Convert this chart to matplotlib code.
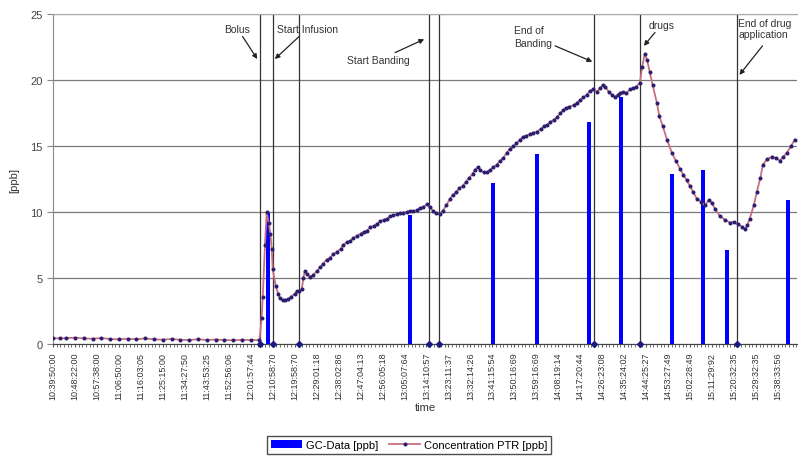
import matplotlib
matplotlib.use("Agg")
import matplotlib.pyplot as plt
from matplotlib.ticker import MultipleLocator, FixedLocator

plt.rcParams['font.family'] = ['Liberation Sans', 'DejaVu Sans']

# category labels of the time axis (one label every few samples)
time_labels = ['10:39:50:00', '10:48:22:00', '10:57:38:00', '11:06:50:00', '11:16:03:05',
               '11:25:15:00', '11:34:27:50', '11:43:53:25', '11:52:56:06', '12:01:57:44',
               '12:10:58:70', '12:19:58:70', '12:29:01:18', '12:38:02:86', '12:47:04:13',
               '12:56:05:18', '13:05:07:64', '13:14:10:57', '13:23:11:37', '13:32:14:26',
               '13:41:15:54', '13:50:16:69', '13:59:16:69', '14:08:19:14', '14:17:20:44',
               '14:26:23:08', '14:35:24:02', '14:44:25:27', '14:53:27:49', '15:02:28:49',
               '15:11:29:92', '15:20:32:35', '15:29:32:35', '15:38:33:56']

# PTR concentration, position in label units
ptr_x = [0.0, 0.3, 0.6, 1.0, 1.4, 1.8, 2.2, 2.6, 3.0, 3.4, 3.8, 4.2, 4.6, 5.0, 5.4, 5.8,
         6.2, 6.6, 7.0, 7.4, 7.8, 8.2, 8.6, 9.0, 9.4, 9.5, 9.55, 9.65, 9.73, 9.82, 9.9,
         9.96, 10.0, 10.14, 10.25, 10.32, 10.45, 10.55, 10.7, 10.85, 11.0, 11.1, 11.2,
         11.33, 11.4, 11.46, 11.55, 11.69, 11.83, 12.0, 12.15, 12.3, 12.46, 12.6, 12.75,
         12.92, 13.1, 13.2, 13.37, 13.5, 13.65, 13.83, 14.0, 14.15, 14.29, 14.45, 14.6,
         14.74, 14.9, 15.05, 15.2, 15.35, 15.5, 15.65, 15.8, 15.95, 16.11, 16.25, 16.4,
         16.56, 16.7, 16.85, 17.02, 17.15, 17.3, 17.45, 17.61, 17.75, 17.9, 18.07, 18.2,
         18.35, 18.5, 18.66, 18.8, 18.95, 19.1, 19.2, 19.34, 19.45, 19.6, 19.75, 19.9,
         20.05, 20.2, 20.35, 20.5, 20.65, 20.8, 20.95, 21.1, 21.25, 21.39, 21.55, 21.7,
         21.85, 22.03, 22.2, 22.35, 22.5, 22.62, 22.8, 22.95, 23.1, 23.21, 23.35, 23.5,
         23.7, 23.85, 24.0, 24.15, 24.3, 24.44, 24.6, 24.76, 24.9, 25.03, 25.15, 25.3,
         25.45, 25.58, 25.7, 25.8, 25.94, 26.1, 26.26, 26.4, 26.55, 26.72, 26.82, 26.94,
         27.05, 27.17, 27.3, 27.49, 27.6, 27.76, 27.95, 28.17, 28.35, 28.54, 28.7, 28.85,
         28.99, 29.15, 29.31, 29.5, 29.67, 29.85, 29.99, 30.15, 30.36, 30.6, 30.82, 31.0,
         31.18, 31.35, 31.5, 31.6, 31.72, 31.9, 32.04, 32.2, 32.32, 32.5, 32.73, 32.9,
         33.09, 33.25, 33.41, 33.6, 33.77]
ptr_ppb = [0.45, 0.42, 0.45, 0.48, 0.42, 0.40, 0.45, 0.38, 0.35, 0.40, 0.36, 0.42, 0.35,
           0.33, 0.38, 0.32, 0.30, 0.36, 0.30, 0.34, 0.30, 0.28, 0.32, 0.30, 0.30, 2.0,
           3.6, 7.5, 10.0, 9.2, 8.3, 7.2, 5.7, 4.4, 3.8, 3.5, 3.3, 3.3, 3.4, 3.6, 3.8, 4.0,
           4.0, 4.2, 5.0, 5.5, 5.3, 5.1, 5.2, 5.5, 5.8, 6.1, 6.4, 6.5, 6.8, 7.0, 7.2, 7.5,
           7.7, 7.8, 8.0, 8.2, 8.35, 8.5, 8.6, 8.85, 8.95, 9.1, 9.3, 9.4, 9.5, 9.7, 9.75,
           9.85, 9.9, 9.95, 10.0, 10.1, 10.05, 10.15, 10.3, 10.35, 10.6, 10.4, 10.1, 9.9,
           9.85, 10.1, 10.5, 11.0, 11.3, 11.5, 11.8, 12.0, 12.3, 12.6, 12.9, 13.2, 13.4,
           13.2, 13.0, 13.0, 13.2, 13.4, 13.6, 13.9, 14.1, 14.5, 14.8, 15.0, 15.2, 15.5,
           15.7, 15.8, 15.9, 16.0, 16.1, 16.3, 16.5, 16.6, 16.8, 17.0, 17.2, 17.5, 17.7,
           17.9, 18.0, 18.1, 18.3, 18.5, 18.7, 18.9, 19.2, 19.3, 19.1, 19.4, 19.6, 19.5,
           19.1, 18.9, 18.7, 18.9, 19.0, 19.1, 19.0, 19.3, 19.4, 19.5, 19.8, 21.0, 22.0,
           21.5, 20.6, 19.6, 18.3, 17.3, 16.5, 15.5, 14.5, 13.9, 13.3, 12.8, 12.4, 12.0,
           11.5, 11.0, 10.8, 10.5, 10.9, 10.7, 10.2, 9.7, 9.4, 9.2, 9.25, 9.1, 8.9, 8.7,
           9.0, 9.5, 10.5, 11.5, 12.6, 13.6, 14.0, 14.2, 14.1, 13.9, 14.2, 14.5, 15.0, 15.5]

# GC measurements
gc_x = [9.78, 16.24, 20.02, 22.03, 24.39, 25.85, 28.17, 29.58, 30.67, 33.46]
gc_ppb = [9.9, 9.8, 12.2, 14.4, 16.8, 18.7, 12.9, 13.2, 7.1, 10.9]

# event markers on the time axis
event_x = [9.41, 10.0, 11.19, 17.11, 17.56, 24.62, 26.72, 31.13]

fig = plt.figure(figsize=(7.99, 4.6), dpi=100)
ax = fig.add_axes([0.0663, 0.25, 0.9312, 0.717])

ax.set_xlim(0, 33.87)
ax.set_ylim(0, 25)

ax.yaxis.set_major_locator(MultipleLocator(5))
ax.grid(axis='y', color='#7a7a7a', lw=0.9)
ax.set_axisbelow(True)

for ex in event_x:
    ax.axvline(ex, color='#333333', lw=0.9, zorder=1)

bars = ax.bar(gc_x, gc_ppb, width=0.2, color='#0000ff', zorder=2, label='GC-Data [ppb]')
line, = ax.plot(ptr_x, ptr_ppb, color='#c87080', lw=1.3, marker='o', ms=1.9,
                mfc='#2b1d70', mec='#2b1d70', zorder=3, label='Concentration PTR [ppb]')
ax.plot(event_x, [0] * len(event_x), ls='none', marker='D', ms=3,
        color='#1a1a80', zorder=4, clip_on=False)

ax.xaxis.set_major_locator(FixedLocator(range(len(time_labels))))
ax.set_xticklabels(time_labels, rotation=90, fontsize=6.5, color='#333333')
ax.xaxis.set_minor_locator(MultipleLocator(1 / 6))
ax.tick_params(axis='x', which='both', length=2.5, color='#555555', pad=3)
ax.tick_params(axis='y', length=4, color='#888888', labelsize=8, labelcolor='#444444')

ax.spines['right'].set_visible(False)
ax.spines['top'].set_color('#aaaaaa')
ax.spines['left'].set_color('#888888')
ax.spines['bottom'].set_color('#444444')

ax.set_ylabel('[ppb]', fontsize=8, color='#333333', labelpad=8)
ax.set_xlabel('time', fontsize=8, color='#333333', labelpad=2)

arrow = dict(arrowstyle='-|>', color='#222222', lw=0.9, mutation_scale=7,
             shrinkA=0, shrinkB=0)
txt = dict(fontsize=7.5, color='#333333')
ax.annotate('Bolus', xy=(9.3, 21.6), xytext=(8.4, 23.9), ha='center', va='center',
            arrowprops=arrow, **txt)
ax.annotate('Start Infusion', xy=(10.1, 21.6), xytext=(10.2, 23.9), ha='left',
            va='center', arrowprops=arrow, **txt)
ax.annotate('Start Banding', xy=(16.9, 23.1), xytext=(14.8, 21.5), ha='center',
            va='center', arrowprops=arrow, **txt)
ax.annotate('End of\nBanding', xy=(24.55, 21.4), xytext=(21.0, 23.3), ha='left',
            va='center', arrowprops=arrow, linespacing=1.35, **txt)
ax.annotate('drugs', xy=(26.9, 22.6), xytext=(27.7, 24.2), ha='center', va='center',
            arrowprops=arrow, **txt)
ax.annotate('End of drug\napplication', xy=(31.2, 20.4), xytext=(31.2, 23.9), ha='left',
            va='center', linespacing=1.2, **txt)
ax.annotate('', xy=(31.25, 20.4), xytext=(32.3, 22.6), arrowprops=arrow)

fig.legend([bars, line], ['GC-Data [ppb]', 'Concentration PTR [ppb]'],
           loc='center', bbox_to_anchor=(0.512, 0.03), ncol=2, fontsize=8,
           frameon=True, fancybox=False, edgecolor='#222222', handlelength=2.8,
           borderpad=0.35, columnspacing=1.0, handletextpad=0.3)

fig.savefig('out.png', dpi=100)
